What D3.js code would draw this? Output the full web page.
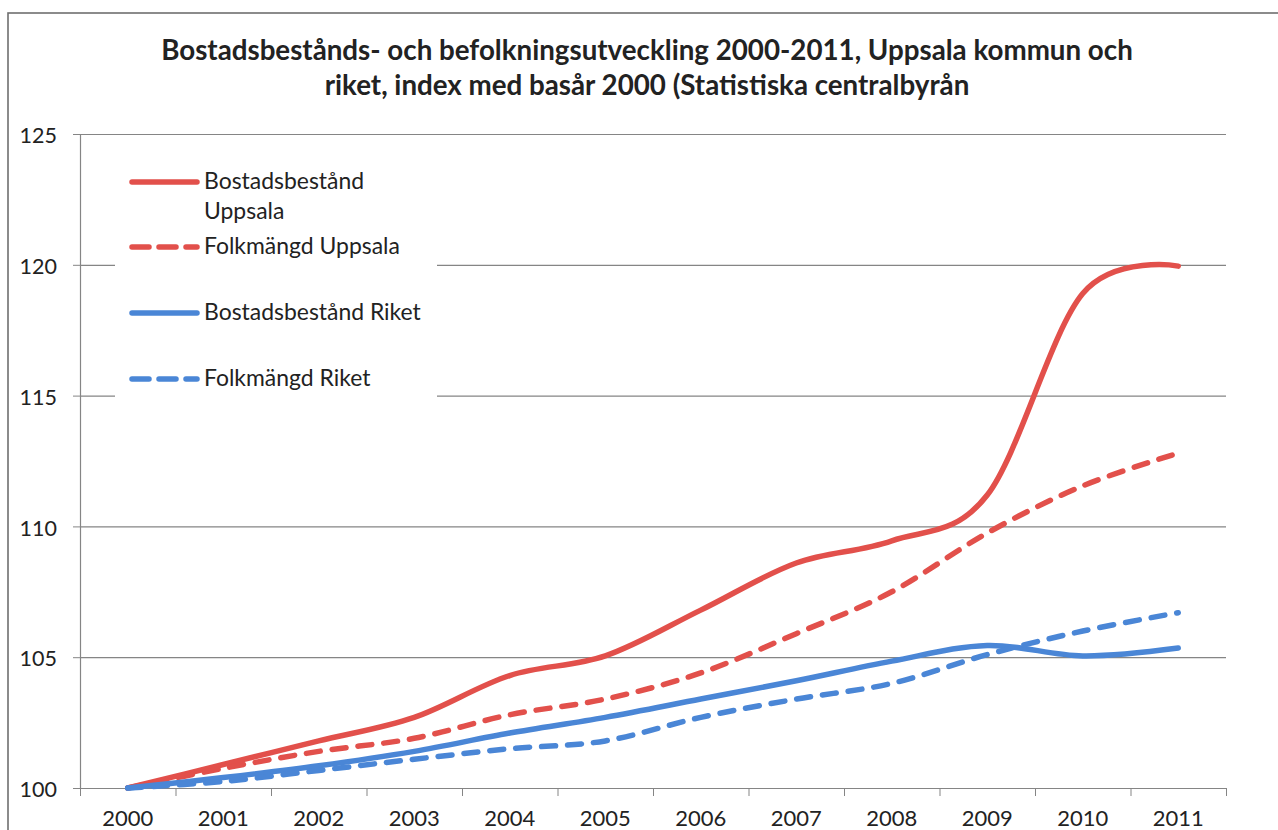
<!DOCTYPE html>
<html>
<head>
<meta charset="utf-8">
<script src="https://cdn.jsdelivr.net/npm/d3@7"></script>
<style>
  body { margin: 0; background: #fff; }
  svg { display: block; font-family: Lato, "Open Sans", sans-serif; }
</style>
</head>
<body>
<div id="container"></div>
<script>
// categories on the x axis
const years = ["2000", "2001", "2002", "2003", "2004", "2005",
  "2006", "2007", "2008", "2009", "2010", "2011"];

// index values, base year 2000 = 100
const bostadUppsala = [100, 100.9, 101.8, 102.7, 104.3, 105.05, 106.8, 108.6, 109.45, 111.2, 118.9, 119.95];
const folkUppsala = [100, 100.75, 101.4, 101.9, 102.8, 103.4, 104.4, 105.9, 107.5, 109.75, 111.55, 112.8];
const bostadRiket = [100, 100.4, 100.85, 101.4, 102.1, 102.7, 103.4, 104.1, 104.85, 105.45, 105.05, 105.35];
const folkRiket = [100, 100.25, 100.67, 101.1, 101.5, 101.8, 102.7, 103.4, 104.0, 105.1, 106.0, 106.7];

// y axis ticks
const yTicks = [100, 105, 110, 115, 120, 125];

// legend labels (first one wraps on two lines)
const seriesNames = [["Bostadsbestånd", "Uppsala"], ["Folkmängd Uppsala"], ["Bostadsbestånd Riket"], ["Folkmängd Riket"]];

const titleLines = [
  "Bostadsbestånds- och befolkningsutveckling 2000-2011, Uppsala kommun och",
  "riket, index med basår 2000 (Statistiska centralbyrån",
];

const RED = "#e2504b";
const BLUE = "#4a86d6";

const series = [
  { values: bostadUppsala, color: RED, dashed: false },
  { values: folkUppsala, color: RED, dashed: true },
  { values: bostadRiket, color: BLUE, dashed: false },
  { values: folkRiket, color: BLUE, dashed: true },
];

draw();

function draw() {
  const width = 1278;
  const height = 830;
  const left = 80, right = 1226, top = 134, bottom = 788;

  const svg = d3.select("#container")
    .append("svg")
    .attr("width", width)
    .attr("height", height);

  // outer chart frame (runs off the right and bottom edge)
  svg.append("rect")
    .attr("x", 8).attr("y", 13)
    .attr("width", 1320).attr("height", 900)
    .attr("fill", "none")
    .attr("stroke", "#6f6f6f")
    .attr("stroke-width", 1.6);

  // title
  const title = svg.append("g").attr("fill", "#222").attr("font-weight", "bold");
  titleLines.forEach((t, i) => {
    title.append("text")
      .attr("x", 647)
      .attr("y", 60 + i * 35)
      .attr("text-anchor", "middle")
      .text(t);
  });
  fitFont(title.selectAll("text"), 972);

  // scales
  const x = d3.scaleBand().domain(years).range([left, right]);
  const xEdge = d3.scaleLinear().domain([0, years.length]).range([left, right]);
  const y = d3.scaleLinear().domain([100, 125]).range([bottom, top]);

  // gridlines
  svg.append("g")
    .attr("transform", "translate(" + left + ",0)")
    .call(d3.axisLeft(y).tickValues(yTicks.slice(1)).tickSize(-(right - left)).tickFormat(""))
    .call((g) => g.select(".domain").remove())
    .call((g) => g.selectAll("line").attr("stroke", "#858585").attr("stroke-width", 1.2));

  // y axis
  const yAxis = svg.append("g")
    .attr("transform", "translate(" + left + ",0)")
    .call(d3.axisLeft(y).tickValues(yTicks).tickSize(7).tickPadding(16));
  yAxis.select(".domain").attr("stroke", "#858585").attr("stroke-width", 1.2);
  yAxis.selectAll("line").attr("stroke", "#858585");
  yAxis.selectAll("text")
    .attr("font-family", "Lato, sans-serif")
    .attr("font-size", 21.5)
    .attr("fill", "#222")
    .attr("dy", "0.4em");

  // x axis: tick marks between the categories
  const xTickAxis = svg.append("g")
    .attr("transform", "translate(0," + bottom + ")")
    .call(d3.axisBottom(xEdge).tickValues(d3.range(years.length + 1)).tickSize(8).tickSizeOuter(0).tickFormat(""));
  xTickAxis.select(".domain").attr("stroke", "#858585").attr("stroke-width", 1.2);
  xTickAxis.selectAll("line").attr("stroke", "#858585");

  // x axis labels at the centre of each category
  const xAxis = svg.append("g")
    .attr("transform", "translate(0," + bottom + ")")
    .call(d3.axisBottom(x).tickSize(0).tickPadding(22));
  xAxis.select(".domain").remove();
  xAxis.selectAll("text")
    .attr("font-family", "Lato, sans-serif")
    .attr("font-size", 22)
    .attr("fill", "#222");

  // lines, smoothed like the spreadsheet chart
  const line = d3.line()
    .x((d, i) => x(years[i]) + x.bandwidth() / 2)
    .y((d) => y(d))
    .curve(d3.curveCatmullRom.alpha(0));

  series.forEach((s) => {
    svg.append("path")
      .datum(s.values)
      .attr("fill", "none")
      .attr("stroke", s.color)
      .attr("stroke-width", 5.5)
      .attr("stroke-linecap", "round")
      .attr("stroke-linejoin", "round")
      .attr("stroke-dasharray", s.dashed ? "14,12" : null)
      .attr("d", line);
  });

  // legend box hides the gridlines behind it
  const legend = svg.append("g");
  legend.append("rect")
    .attr("x", 115).attr("y", 150)
    .attr("width", 322).attr("height", 255)
    .attr("fill", "#fff");

  const rowY = [182, 247, 313, 379];
  const legendText = legend.append("g").attr("fill", "#222");
  series.forEach((s, i) => {
    legend.append("line")
      .attr("x1", 132).attr("x2", 197)
      .attr("y1", rowY[i]).attr("y2", rowY[i])
      .attr("stroke", s.color)
      .attr("stroke-width", 5.5)
      .attr("stroke-linecap", "round")
      .attr("stroke-dasharray", s.dashed ? "17,10" : null);
    seriesNames[i].forEach((t, j) => {
      legendText.append("text")
        .attr("x", 204)
        .attr("y", rowY[i] + 7 + j * 30)
        .text(t);
    });
  });
  // size legend font so "Bostadsbestånd Riket" is as wide as in the picture
  fitFont(legendText.selectAll("text"), 217, "Bostadsbestånd Riket");
}

// scale the font of a selection so that the widest (or named) text gets the target width
function fitFont(sel, target, ref) {
  sel.attr("font-size", 100);
  var w = 0;
  sel.each(function () {
    if (!ref || this.textContent === ref) {
      w = Math.max(w, this.getComputedTextLength());
    }
  });
  sel.attr("font-size", (100 * target) / w);
}
</script>
</body>
</html>
